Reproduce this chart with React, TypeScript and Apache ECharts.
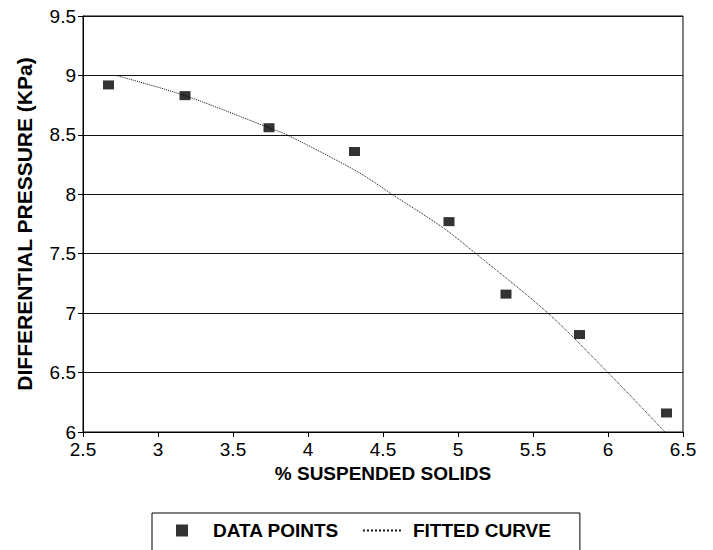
import React, { useEffect, useRef } from "react";
import * as echarts from "echarts";

// Measured data points (% suspended solids, differential pressure kPa)
const dataX = [2.67, 3.18, 3.74, 4.31, 4.94, 5.32, 5.81, 6.39];
const dataY = [8.92, 8.83, 8.56, 8.36, 7.77, 7.16, 6.82, 6.16];

// Fitted curve points
const curveX = [2.72, 3.18, 3.74, 3.86, 4.33, 4.56, 4.91, 5.12, 5.6, 6.0, 6.38];
const curveY = [9.0, 8.83, 8.56, 8.5, 8.19, 8.0, 7.71, 7.5, 7.0, 6.5, 6.0];

const xTitle = "% SUSPENDED SOLIDS";
const yTitle = "DIFFERENTIAL PRESSURE (KPa)";
const seriesNames = ["DATA POINTS", "FITTED CURVE"];

const FONT = '"Liberation Sans", Arial, sans-serif';
const INK = "#000";

export default function App() {
  const ref = useRef<HTMLDivElement>(null);

  useEffect(() => {
    if (!ref.current) return;
    const chart = echarts.init(ref.current, undefined, { renderer: "svg" });
    const points = dataX.map((x, i) => [x, dataY[i]]);
    const curve = curveX.map((x, i) => [x, curveY[i]]);

    chart.setOption({
      animation: false,
      backgroundColor: "#fff",
      textStyle: { fontFamily: FONT },
      grid: {
        left: 83,
        right: 30,
        top: 16,
        bottom: 118,
        show: true,
        borderColor: INK,
        borderWidth: 1,
      },
      xAxis: {
        type: "value",
        min: 2.5,
        max: 6.5,
        interval: 0.5,
        name: xTitle,
        nameLocation: "middle",
        nameGap: 31,
        nameTextStyle: { fontFamily: FONT, fontSize: 19, fontWeight: "bold", color: INK },
        axisLine: { show: true, lineStyle: { color: INK, width: 1 } },
        axisTick: { show: true, length: 5, lineStyle: { color: INK } },
        axisLabel: { fontFamily: FONT, fontSize: 19, color: INK, margin: 8 },
        splitLine: { show: false },
      },
      yAxis: {
        type: "value",
        min: 6,
        max: 9.5,
        interval: 0.5,
        name: yTitle,
        nameLocation: "middle",
        nameGap: 48,
        nameRotate: 90,
        nameTextStyle: { fontFamily: FONT, fontSize: 21, fontWeight: "bold", color: INK },
        axisLine: { show: true, lineStyle: { color: INK, width: 1 } },
        axisTick: { show: true, length: 5, lineStyle: { color: INK } },
        axisLabel: { fontFamily: FONT, fontSize: 19, color: INK, margin: 7 },
        splitLine: { show: true, lineStyle: { color: "#111", width: 1 } },
      },
      legend: {
        left: 152,
        top: 513,
        orient: "horizontal",
        borderColor: INK,
        borderWidth: 1,
        padding: [8, 29, 40, 24],
        itemWidth: 38,
        itemHeight: 12,
        itemGap: 23,
        symbolKeepAspect: true,
        textStyle: {
          fontFamily: FONT,
          fontSize: 19,
          fontWeight: "bold",
          color: INK,
          padding: [0, 0, 0, 7],
        },
        data: [
          { name: seriesNames[0], icon: "path://M0,0L12,0L12,12L0,12Z" },
          { name: seriesNames[1], itemStyle: { opacity: 0 } },
        ],
      },
      series: [
        {
          name: seriesNames[0],
          type: "scatter",
          data: points,
          symbol: "rect",
          symbolSize: [11, 9],
          itemStyle: { color: INK },
          z: 3,
        },
        {
          name: seriesNames[1],
          type: "line",
          data: curve,
          smooth: 0.3,
          symbol: "none",
          showSymbol: false,
          lineStyle: { type: "dotted", width: 1, color: "#111" },
          itemStyle: { color: "#111" },
          z: 2,
        },
      ],
    });

    return () => chart.dispose();
  }, []);

  return (
    <div
      ref={ref}
      style={{ position: "fixed", left: 0, top: 0, width: 713, height: 550, background: "#fff" }}
    />
  );
}
